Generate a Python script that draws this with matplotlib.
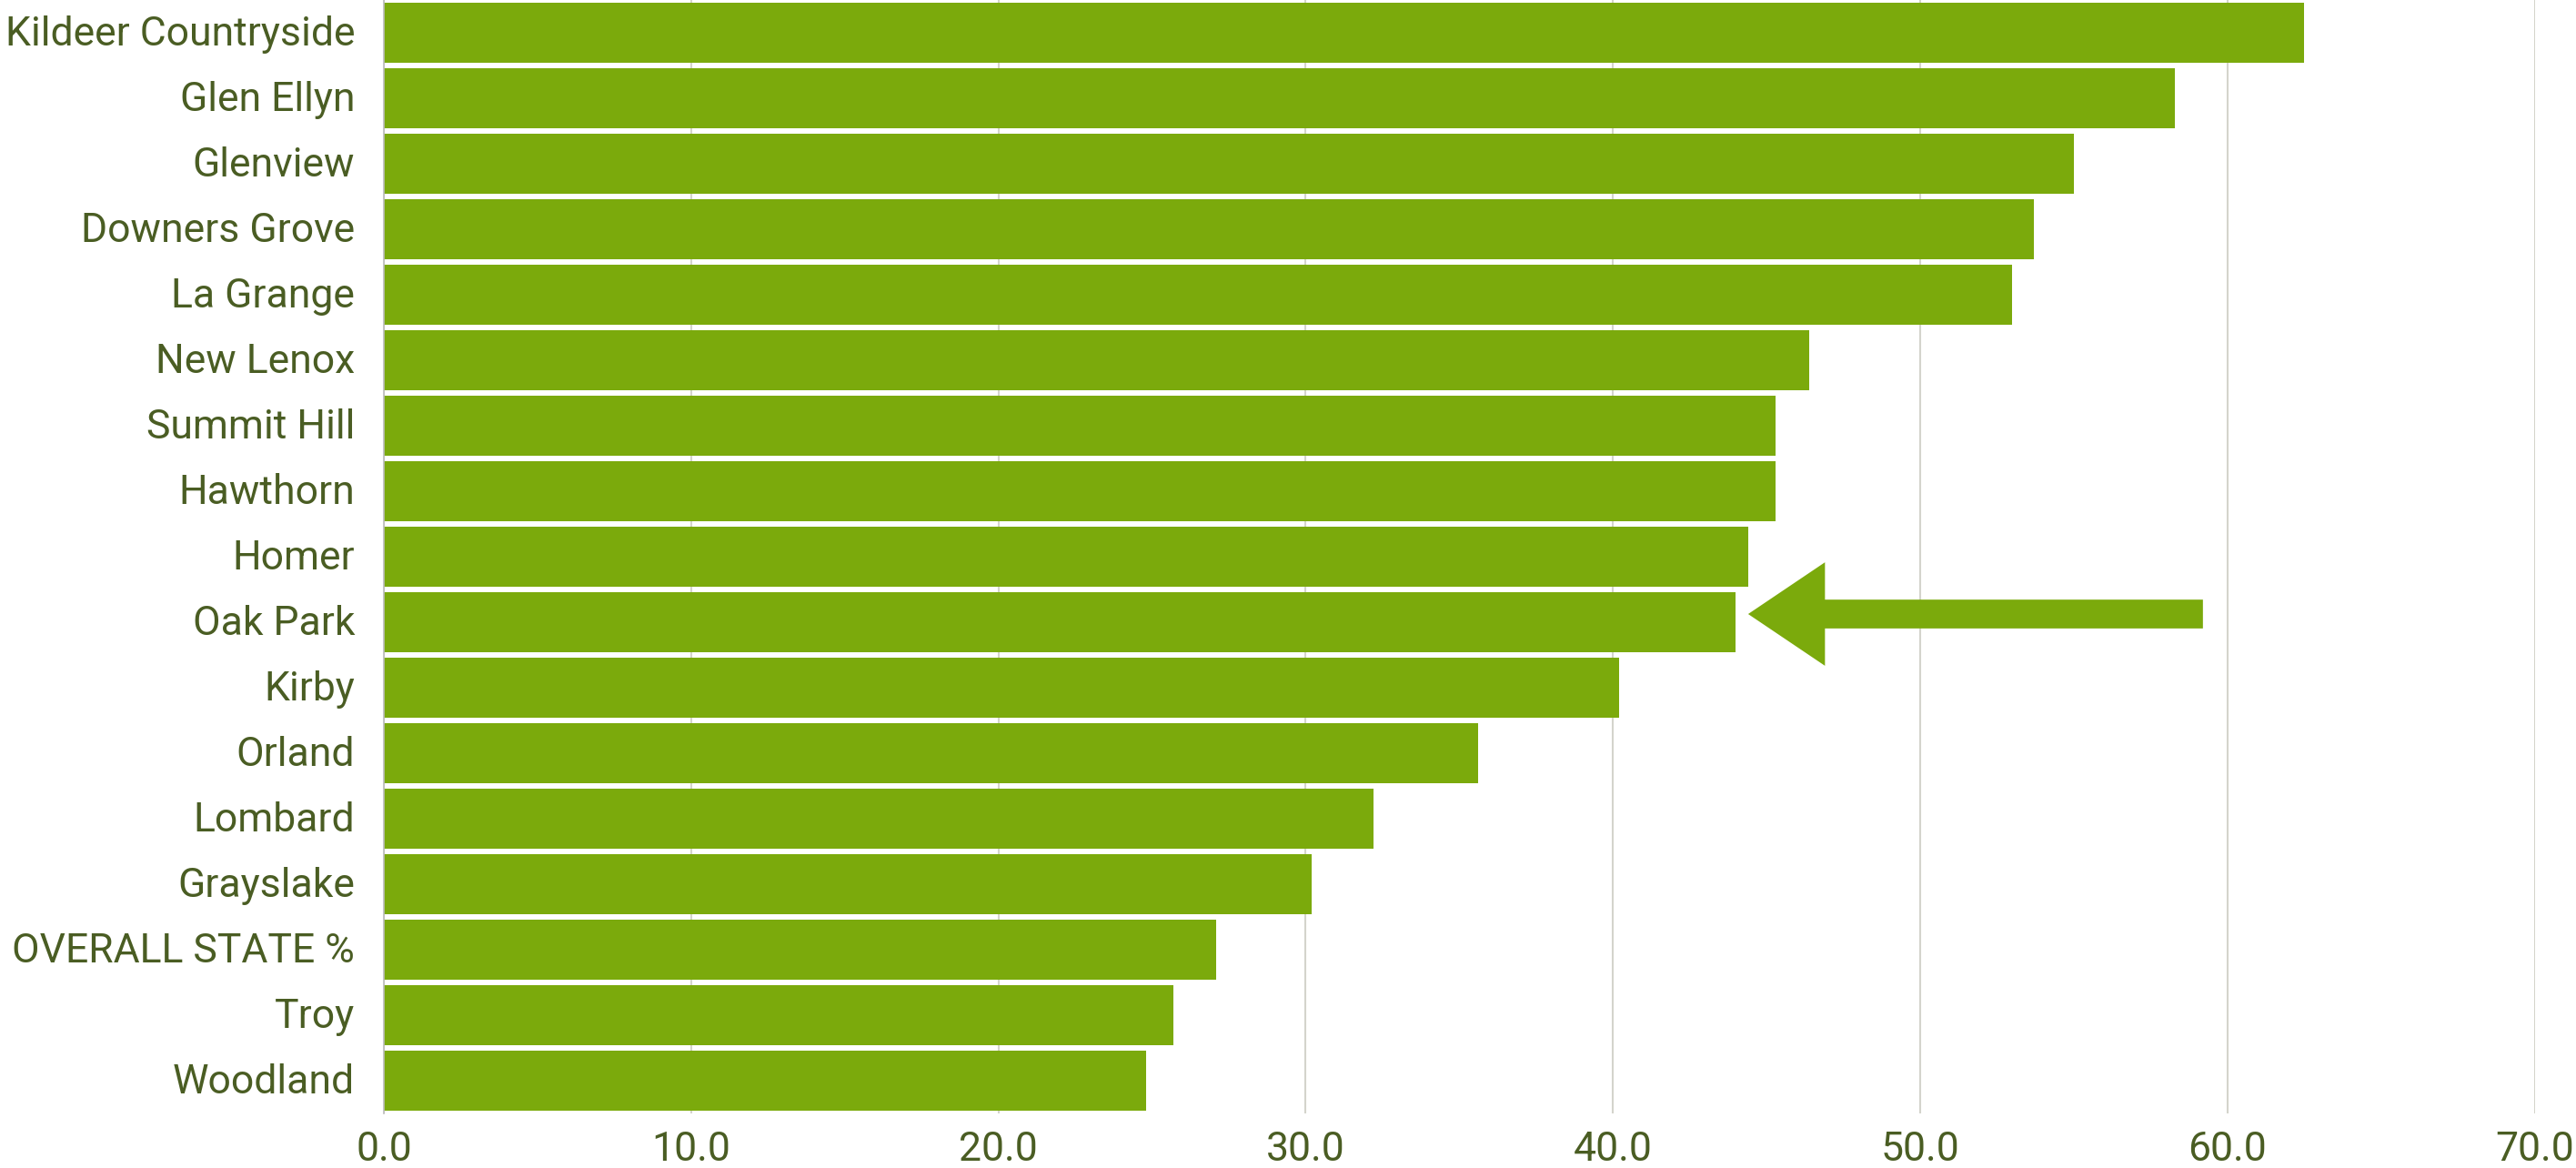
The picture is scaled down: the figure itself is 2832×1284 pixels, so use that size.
import matplotlib
matplotlib.use("Agg")
import matplotlib.pyplot as plt
import matplotlib.transforms as mtransforms

plt.rcParams['font.family'] = ['Roboto', 'DejaVu Sans']

BAR_COLOR = "#7BAA0C"
TEXT_COLOR = "#4A5D23"
GRID_COLOR = "#D4D4CC"

# data, top to bottom
towns = ["Kildeer Countryside", "Glen Ellyn", "Glenview", "Downers Grove", "La Grange",
         "New Lenox", "Summit Hill", "Hawthorn", "Homer", "Oak Park", "Kirby", "Orland",
         "Lombard", "Grayslake", "OVERALL STATE %", "Troy", "Woodland"]
values = [62.5, 58.3, 55.0, 53.7, 53.0, 46.4, 45.3, 45.3, 44.4, 44.0, 40.2, 35.6,
          32.2, 30.2, 27.1, 25.7, 24.8]
xticks = [0, 10, 20, 30, 40, 50, 60, 70]
xtick_labels = ["0.0", "10.0", "20.0", "30.0", "40.0", "50.0", "60.0", "70.0"]

# arrow pointing at Oak Park
highlight = "Oak Park"
arrow_tail = 59.2
arrow_tip = 44.4

fig = plt.figure(figsize=(28.32, 12.84), dpi=100)
ax = fig.add_axes([0.149, 0.0467, 0.835, 0.9533])

ypos = list(range(len(towns)))
ax.barh(ypos, values, height=0.917, color=BAR_COLOR, zorder=3)

# the arrow
yi = towns.index(highlight) - 0.125
ax.arrow(arrow_tail, yi, arrow_tip - arrow_tail, 0, width=0.44, head_width=1.58,
         head_length=2.5, length_includes_head=True, color=BAR_COLOR, lw=0, zorder=4)

ax.set_xlim(0, 70)
ax.set_ylim(len(towns) - 0.5, -0.5)
ax.set_xticks(xticks)
ax.set_xticklabels(xtick_labels)
ax.set_yticks(ypos)
ax.set_yticklabels(towns)
ax.tick_params(axis="both", length=0, labelsize=32, colors=TEXT_COLOR)
ax.tick_params(axis="y", pad=23)
ax.tick_params(axis="x", pad=14)

# nudge y labels up a little
shift = mtransforms.ScaledTranslation(0, 3 / 100, fig.dpi_scale_trans)
for lab in ax.get_yticklabels():
    lab.set_transform(lab.get_transform() + shift)

ax.grid(axis="x", color=GRID_COLOR, linewidth=1.5, zorder=0)
for side in ["top", "right", "bottom"]:
    ax.spines[side].set_visible(False)
ax.spines["left"].set_color("#BBBBBB")
ax.spines["left"].set_linewidth(1.2)
ax.spines["left"].set_zorder(5)

fig.savefig("out.png", dpi=100, facecolor="white")
